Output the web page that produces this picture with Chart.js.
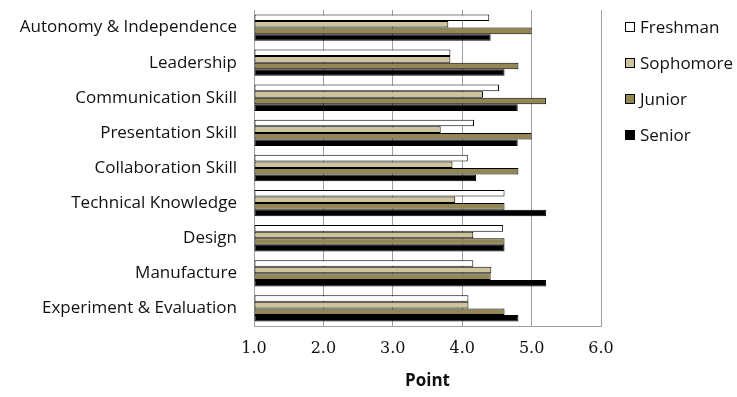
<!DOCTYPE html>
<html>
<head>
<meta charset="utf-8">
<script src="https://cdn.jsdelivr.net/npm/chart.js@4"></script>
<style>
  html, body { margin: 0; padding: 0; background: #fff; }
  #wrap { width: 737px; height: 397px; position: relative; }
</style>
</head>
<body>
<div id="wrap"><canvas id="skillChart"></canvas></div>
<script>
// Categories, top to bottom
const skills = [
  "Autonomy & Independence",
  "Leadership",
  "Communication Skill",
  "Presentation Skill",
  "Collaboration Skill",
  "Technical Knowledge",
  "Design",
  "Manufacture",
  "Experiment & Evaluation"
];

// Average points per year group
const freshman  = [4.39, 3.83, 4.53, 4.17, 4.08, 4.61, 4.59, 4.16, 4.09];
const sophomore = [3.80, 3.83, 4.30, 3.69, 3.86, 3.90, 4.16, 4.42, 4.09];
const junior    = [5.00, 4.81, 5.21, 5.00, 4.81, 4.61, 4.61, 4.41, 4.61];
const senior    = [4.41, 4.61, 4.80, 4.80, 4.20, 5.21, 4.61, 5.21, 4.81];

const xTicks = [1, 2, 3, 4, 5, 6];

const groups = [
  { label: "Freshman", data: freshman, color: "#ffffff" },
  { label: "Sophomore", data: sophomore, color: "#cdc49c" },
  { label: "Junior", data: junior, color: "#938855" },
  { label: "Senior", data: senior, color: "#000000" }
];

// Legend drawn on the right, Excel style
const sideLegend = {
  id: "sideLegend",
  afterDraw(chart) {
    const ctx = chart.ctx;
    ctx.save();
    ctx.font = "17px 'Open Sans', sans-serif";
    ctx.textBaseline = "middle";
    chart.data.datasets.forEach((ds, i) => {
      const y = 27 + i * 36;
      ctx.fillStyle = ds.backgroundColor;
      ctx.fillRect(625, y - 5, 10, 10);
      ctx.strokeStyle = "#000";
      ctx.lineWidth = 1;
      ctx.strokeRect(625.5, y - 4.5, 9, 9);
      ctx.fillStyle = "#111";
      ctx.fillText(ds.label, 640, y + 1);
    });
    ctx.restore();
  }
};

const ctx = document.getElementById("skillChart").getContext("2d");

const skillChart = new Chart(ctx, {
  type: "bar",
  data: {
    labels: skills,
    datasets: groups.map((g) => ({
      label: g.label,
      data: g.data,
      base: 1,
      backgroundColor: g.color,
      borderColor: "#000000",
      borderWidth: 1,
      borderSkipped: false,
      categoryPercentage: 0.75,
      barPercentage: 1.0
    }))
  },
  options: {
    indexAxis: "y",
    responsive: true,
    maintainAspectRatio: false,
    animation: false,
    layout: {
      padding: { top: 10, right: 136, bottom: 0, left: 0 }
    },
    plugins: {
      legend: { display: false },
      tooltip: { enabled: false }
    },
    scales: {
      x: {
        min: 1,
        max: 6,
        afterBuildTicks: (scale) => {
          scale.ticks = xTicks.map((v) => ({ value: v }));
        },
        afterFit: (scale) => {
          scale.height = 71;
        },
        ticks: {
          padding: 13,
          color: "#111",
          font: { family: "'DejaVu Serif', serif", size: 16 },
          callback: function (value) {
            return Number(value).toFixed(1);
          }
        },
        grid: {
          color: "#a0a0a0",
          lineWidth: 1,
          drawTicks: false
        },
        border: { color: "#a0a0a0", width: 1 },
        title: {
          display: true,
          text: "Point",
          color: "#111",
          font: { family: "'Open Sans', sans-serif", size: 17, weight: "bold" },
          padding: { top: 0, bottom: 6 }
        }
      },
      y: {
        afterFit: (scale) => {
          scale.width = 254;
          scale.paddingTop = 0;
          scale.paddingBottom = 0;
        },
        ticks: {
          padding: 17,
          color: "#111",
          font: { family: "'Open Sans', sans-serif", size: 17 }
        },
        grid: { display: false, drawTicks: false },
        border: { color: "#a0a0a0", width: 1 }
      }
    }
  },
  plugins: [sideLegend]
});
</script>
</body>
</html>
